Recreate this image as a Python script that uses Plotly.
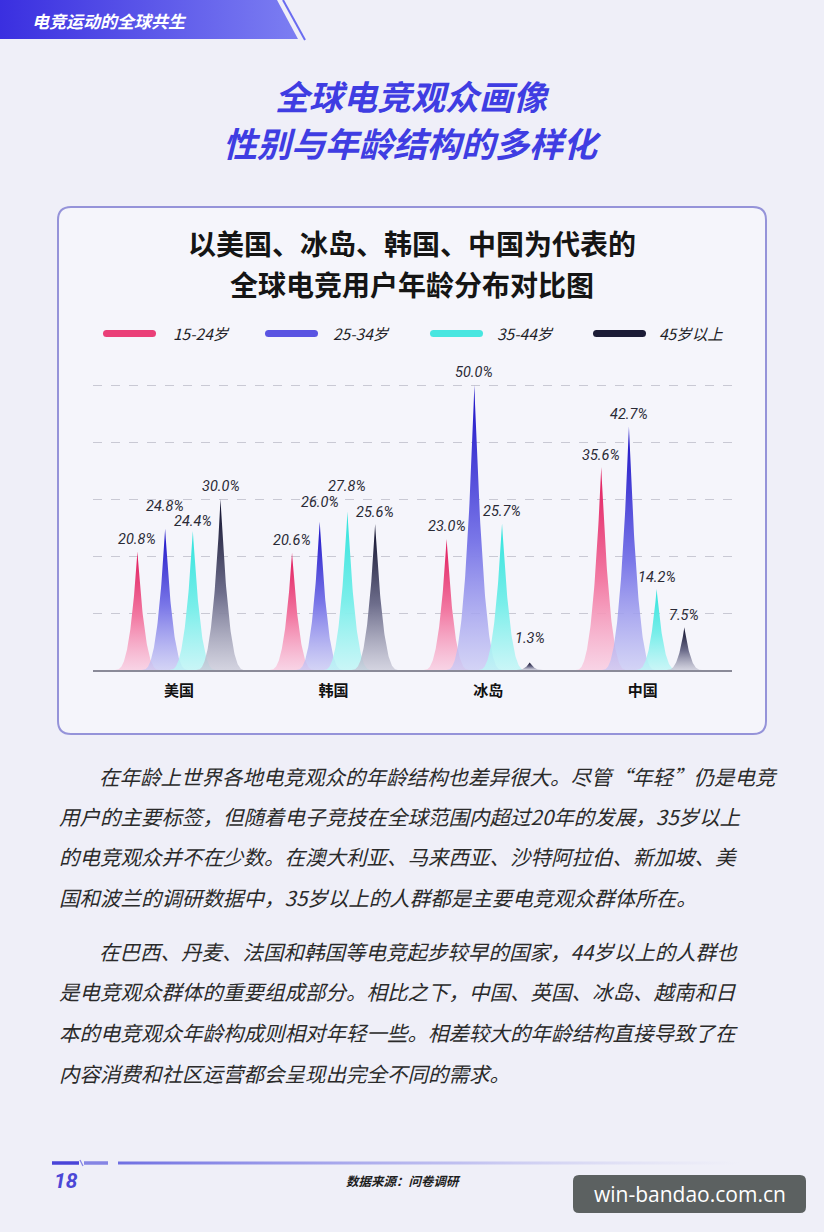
import numpy as np
import plotly.graph_objects as go

W, H = 824, 1232

# ---------------- data ----------------
countries = ["美国", "韩国", "冰岛", "中国"]
age_groups = ["15-24岁", "25-34岁", "35-44岁", "45岁以上"]
v_15_24 = [20.8, 20.6, 23.0, 35.6]
v_25_34 = [24.8, 26.0, 50.0, 42.7]
v_35_44 = [24.4, 27.8, 25.7, 14.2]
v_45_up = [30.0, 25.6, 1.3, 7.5]
series_values = [v_15_24, v_25_34, v_35_44, v_45_up]
grid_values = [10, 20, 30, 40, 50]

page_header = "电竞运动的全球共生"
main_title = ["全球电竞观众画像", "性别与年龄结构的多样化"]
chart_title = ["以美国、冰岛、韩国、中国为代表的", "全球电竞用户年龄分布对比图"]
body_para1 = [
    "在年龄上世界各地电竞观众的年龄结构也差异很大。尽管“年轻”仍是电竞",
    "用户的主要标签，但随着电子竞技在全球范围内超过20年的发展，35岁以上",
    "的电竞观众并不在少数。在澳大利亚、马来西亚、沙特阿拉伯、新加坡、美",
    "国和波兰的调研数据中，35岁以上的人群都是主要电竞观众群体所在。",
]
body_para2 = [
    "在巴西、丹麦、法国和韩国等电竞起步较早的国家，44岁以上的人群也",
    "是电竞观众群体的重要组成部分。相比之下，中国、英国、冰岛、越南和日",
    "本的电竞观众年龄构成则相对年轻一些。相差较大的年龄结构直接导致了在",
    "内容消费和社区运营都会呈现出完全不同的需求。",
]
page_number = "18"
source_text = "数据来源：问卷调研"
watermark = "win-bandao.com.cn"

# ---------------- styles ----------------
CJK = "Noto Sans CJK SC"
NUM = "Roboto"
legend_colors = ["#ea3f78", "#5a54e2", "#48e6e0", "#1c1c36"]
spike_scales = [
    [[0, "rgba(249,200,222,0.75)"], [0.45, "#f27aa3"], [1, "#e0185a"]],
    [[0, "rgba(200,200,244,0.75)"], [0.45, "#7b78e8"], [1, "#1a0fc6"]],
    [[0, "rgba(190,246,246,0.8)"], [0.45, "#7aeeea"], [1, "#2fe3dc"]],
    [[0, "rgba(200,200,215,0.75)"], [0.45, "#6e6e8c"], [1, "#0e0e2a"]],
]
label_nudge = {(1, 0): 10, (2, 0): -3, (1, 1): 7, (2, 1): 13, (3, 2): 12}

unit = 154.6          # px per category
offset = 27.7 / unit  # spacing between series inside a group
px_per_pct = 5.7
base_px, top_px = 670, 375


def px(x, y):
    return x / W, 1 - y / H


def rrect(x0, y0, x1, y1, r):
    X = lambda v: v / W
    Y = lambda v: 1 - v / H
    return (f"M {X(x0+r)},{Y(y0)} L {X(x1-r)},{Y(y0)} Q {X(x1)},{Y(y0)} {X(x1)},{Y(y0+r)} "
            f"L {X(x1)},{Y(y1-r)} Q {X(x1)},{Y(y1)} {X(x1-r)},{Y(y1)} "
            f"L {X(x0+r)},{Y(y1)} Q {X(x0)},{Y(y1)} {X(x0)},{Y(y1-r)} "
            f"L {X(x0)},{Y(y0+r)} Q {X(x0)},{Y(y0)} {X(x0+r)},{Y(y0)} Z")


def ann(x, y, text, size, color, bold=False, italic=False, xanchor="center", family=CJK):
    ax, ay = px(x, y)
    return dict(x=ax, y=ay, xref="paper", yref="paper", text=text, showarrow=False,
                xanchor=xanchor, yanchor="middle",
                font=dict(size=size, color=color, family=family,
                          weight="bold" if bold else "normal",
                          style="italic" if italic else "normal"))


fig = go.Figure()

# ---------------- spikes ----------------
annotations = []
for i, vals in enumerate(series_values):
    for j, v in enumerate(vals):
        c = j + (i - 1.5) * offset
        wpx = 9 + 19 * (v / 50) ** 0.4
        u = np.linspace(-1, 1, 161)
        xs = c + u * wpx / unit
        ys = v * (1 - np.abs(u)) ** 2.8
        fig.add_trace(go.Scatter(
            x=xs, y=ys, mode="lines", fill="toself",
            line=dict(width=0, color=legend_colors[i]),
            fillgradient=dict(type="vertical", colorscale=spike_scales[i]),
            hoverinfo="skip", showlegend=False, xaxis="x", yaxis="y"))
        annotations.append(dict(
            x=c, y=v, xref="x", yref="y", text=f"{v:.1f}%", showarrow=False,
            xanchor="center", yanchor="middle", yshift=12 + label_nudge.get((i, j), 0),
            font=dict(size=14.5, color="#2a2a36", family=NUM, style="italic")))

# ---------------- page decoration traces (pixel axes) ----------------
fig.add_trace(go.Scatter(
    x=[0, 277, 298, 0], y=[0, 0, 39, 39], mode="lines", fill="toself",
    line=dict(width=0, color="#4a44e6"),
    fillgradient=dict(type="horizontal", colorscale=[[0, "#3a2fe0"], [1, "#7c7ef2"]]),
    hoverinfo="skip", showlegend=False, xaxis="x2", yaxis="y2"))
fig.add_trace(go.Scatter(
    x=[283, 305], y=[0, 40], mode="lines", line=dict(width=2, color="#6a6cf0"),
    hoverinfo="skip", showlegend=False, xaxis="x2", yaxis="y2"))
fig.add_trace(go.Scatter(
    x=[118, 740, 740, 118], y=[1161.5, 1161.5, 1164.5, 1164.5], mode="lines", fill="toself",
    line=dict(width=0, color="#7a7ae6"),
    fillgradient=dict(type="horizontal",
                      colorscale=[[0, "#6f6fe2"], [0.55, "rgba(160,160,235,0.6)"], [1, "rgba(200,200,240,0)"]]),
    hoverinfo="skip", showlegend=False, xaxis="x2", yaxis="y2"))

# ---------------- shapes ----------------
shapes = []
shapes.append(dict(type="path", path=rrect(58, 207, 766, 734, 13), xref="paper", yref="paper",
                   fillcolor="rgba(246,246,252,0.85)", line=dict(color="#9593d9", width=2),
                   layer="below"))
leg_x = [103, 265, 430, 593]
for k, x0 in enumerate(leg_x):
    shapes.append(dict(type="path", path=rrect(x0, 330, x0 + 53, 337, 3.5), xref="paper", yref="paper",
                       fillcolor=legend_colors[k], line=dict(width=0), layer="above"))
for (x0, x1, col) in [(52, 79, "#4a44d8"), (84, 108, "#8584e4")]:
    shapes.append(dict(type="line", x0=x0 / W, x1=x1 / W, y0=1 - 1163 / H, y1=1 - 1163 / H,
                       xref="paper", yref="paper", line=dict(color=col, width=3.5)))
shapes.append(dict(type="line", x0=80 / W, x1=83 / W, y0=1 - 1160 / H, y1=1 - 1166 / H,
                   xref="paper", yref="paper", line=dict(color="#8584e4", width=1.2)))
shapes.append(dict(type="path", path=rrect(573, 1175, 806, 1213, 6), xref="paper", yref="paper",
                   fillcolor="#5c6161", line=dict(width=0), layer="above"))

# ---------------- texts ----------------
annotations.append(ann(30, 20, page_header, 17, "#ffffff", bold=True, italic=True, xanchor="left"))
annotations.append(ann(412, 95, main_title[0], 34, "#3f3de2", bold=True, italic=True))
annotations.append(ann(412, 142, main_title[1], 34, "#3f3de2", bold=True, italic=True))
annotations.append(ann(412, 243, chart_title[0], 28, "#151515", bold=True))
annotations.append(ann(412, 284, chart_title[1], 28, "#151515", bold=True))
leg_lbl_x = [171, 331, 495, 657]
for k, name in enumerate(age_groups):
    annotations.append(ann(leg_lbl_x[k], 333, name, 15.5, "#1e1e28", italic=True, xanchor="left"))

para_y1 = [776, 816, 856, 897]
para_y2 = [951, 991, 1032, 1073]
for lines, ys in [(body_para1, para_y1), (body_para2, para_y2)]:
    for n, (t, y) in enumerate(zip(lines, ys)):
        annotations.append(ann(97 if n == 0 else 57, y, t, 20.5, "#2a2a2a", italic=True, xanchor="left"))

annotations.append(ann(52, 1181, page_number, 21, "#4b47d6", bold=True, italic=True, xanchor="left", family=NUM))
annotations.append(ann(403, 1180, source_text, 12.5, "#1e1e1e", bold=True, italic=True))
annotations.append(ann(689.5, 1194, watermark, 21, "#ffffff", family="Open Sans"))

# ---------------- layout ----------------
x_lo = -(179 - 93) / unit
x_hi = (732 - 179) / unit
fig.update_layout(
    width=W, height=H, margin=dict(l=0, r=0, t=0, b=0),
    paper_bgcolor="#efeff8", plot_bgcolor="rgba(0,0,0,0)",
    showlegend=False,
    xaxis=dict(domain=[93 / W, 732 / W], range=[x_lo, x_hi], tickvals=list(range(len(countries))),
               ticktext=countries, showgrid=False, zeroline=False, showline=True,
               linecolor="#8a8a98", linewidth=1.5, ticks="outside", ticklen=6,
               tickcolor="rgba(0,0,0,0)",
               tickfont=dict(size=15, color="#111111", family=CJK, weight="bold"),
               fixedrange=True, anchor="y"),
    yaxis=dict(domain=[1 - base_px / H, 1 - top_px / H], range=[0, (base_px - top_px) / px_per_pct],
               tickvals=grid_values, showticklabels=False, showgrid=True, gridcolor="#c9c9d4",
               griddash="dash", gridwidth=1, zeroline=False, fixedrange=True, anchor="x"),
    xaxis2=dict(domain=[0, 1], range=[0, W], visible=False, anchor="y2", fixedrange=True),
    yaxis2=dict(domain=[0, 1], range=[H, 0], visible=False, anchor="x2", fixedrange=True),
    shapes=shapes, annotations=annotations,
)

fig.write_html("out.html", config={"displayModeBar": False},
               post_script="document.body.style.margin='0';document.body.style.overflow='hidden';")
